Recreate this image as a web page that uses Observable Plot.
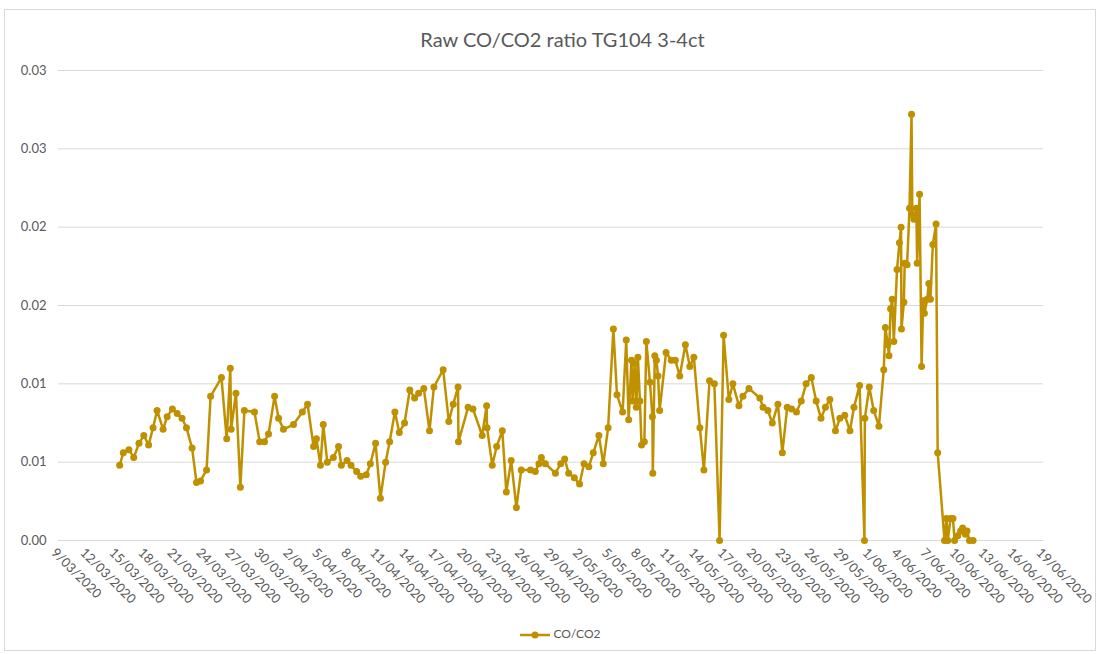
<!DOCTYPE html>
<html>
<head>
<meta charset="utf-8">
<script src="https://cdn.jsdelivr.net/npm/d3@7"></script>
<script src="https://cdn.jsdelivr.net/npm/@observablehq/plot@0.6"></script>
<style>
  html, body { margin: 0; padding: 0; background: #fff; }
  #wrap { position: relative; width: 1097px; height: 654px; overflow: hidden; font-family: Lato, "Open Sans", sans-serif; color: #595959; }
  #frame { position: absolute; left: 4px; top: 9px; width: 1092px; height: 642px; border: 1px solid #d9d9d9; box-sizing: border-box; }
  #title { position: absolute; left: 14px; width: 1097px; top: 27px; text-align: center; font-size: 20px; color: #595959; }
  #chart { position: absolute; left: 0; top: 0; }
  #legend { position: absolute; left: 12px; width: 1097px; top: 626px; text-align: center; font-size: 12px; color: #595959; }
  #legend svg { vertical-align: middle; margin-right: 3px; }
</style>
</head>
<body>
<div id="wrap">
  <div id="frame"></div>
  <div id="chart"></div>
  <div id="title">Raw CO/CO2 ratio TG104 3-4ct</div>
  <div id="legend"></div>
</div>
<script>
// ---- data ----
const seriesName = "CO/CO2";
const times = [
  "2020-03-15 08","2020-03-15 17","2020-03-16 07","2020-03-16 19","2020-03-17 08","2020-03-17 20",
  "2020-03-18 08","2020-03-18 19","2020-03-19 05","2020-03-19 20","2020-03-20 06","2020-03-20 19",
  "2020-03-21 07","2020-03-21 19","2020-03-22 06","2020-03-22 20","2020-03-23 07","2020-03-23 17",
  "2020-03-24 08","2020-03-24 18","2020-03-25 21","2020-03-26 10","2020-03-26 19","2020-03-26 21",
  "2020-03-27 09","2020-03-27 20","2020-03-28 06","2020-03-29 07","2020-03-29 20","2020-03-30 08",
  "2020-03-30 18","2020-03-31 09","2020-03-31 19","2020-04-01 07","2020-04-02 08","2020-04-03 06",
  "2020-04-03 19","2020-04-04 10","2020-04-04 17","2020-04-05 03","2020-04-05 10","2020-04-05 20",
  "2020-04-06 11","2020-04-07 00","2020-04-07 07","2020-04-07 21","2020-04-08 07","2020-04-08 21",
  "2020-04-09 07","2020-04-09 21","2020-04-10 07","2020-04-10 20","2020-04-11 08","2020-04-11 21",
  "2020-04-12 07","2020-04-12 20","2020-04-13 07","2020-04-13 20","2020-04-14 09","2020-04-14 21",
  "2020-04-15 07","2020-04-15 20","2020-04-16 10","2020-04-16 21","2020-04-17 20","2020-04-18 10",
  "2020-04-18 21","2020-04-19 09","2020-04-19 10","2020-04-20 10","2020-04-20 22","2020-04-21 21",
  "2020-04-22 08","2020-04-22 09","2020-04-22 22","2020-04-23 09","2020-04-23 23","2020-04-24 09",
  "2020-04-24 21","2020-04-25 10","2020-04-25 22","2020-04-26 21","2020-04-27 09","2020-04-27 18",
  "2020-04-28 00","2020-04-28 10","2020-04-29 11","2020-04-30 00","2020-04-30 10","2020-04-30 20",
  "2020-05-01 10","2020-05-01 23","2020-05-02 10","2020-05-02 22","2020-05-03 09","2020-05-03 23",
  "2020-05-04 10","2020-05-04 22","2020-05-05 11","2020-05-05 20","2020-05-06 10","2020-05-06 19",
  "2020-05-07 01","2020-05-07 08","2020-05-07 11","2020-05-07 16","2020-05-07 20","2020-05-08 00",
  "2020-05-08 05","2020-05-08 09","2020-05-08 16","2020-05-08 21","2020-05-09 06","2020-05-09 12",
  "2020-05-09 13","2020-05-09 18","2020-05-09 22","2020-05-10 02","2020-05-10 06","2020-05-10 22",
  "2020-05-11 11","2020-05-11 21","2020-05-12 08","2020-05-12 22","2020-05-13 09","2020-05-13 19",
  "2020-05-14 10","2020-05-14 20","2020-05-15 10","2020-05-15 22","2020-05-16 11","2020-05-16 21",
  "2020-05-17 10","2020-05-17 20","2020-05-18 11","2020-05-18 21","2020-05-19 12","2020-05-20 15",
  "2020-05-20 23","2020-05-21 11","2020-05-21 22","2020-05-22 12","2020-05-22 23","2020-05-23 11",
  "2020-05-23 22","2020-05-24 10","2020-05-24 22","2020-05-25 10","2020-05-25 23","2020-05-26 11",
  "2020-05-26 23","2020-05-27 10","2020-05-27 21","2020-05-28 11","2020-05-28 22","2020-05-29 10",
  "2020-05-29 23","2020-05-30 09","2020-05-30 23","2020-05-31 11","2020-05-31 12","2020-05-31 23",
  "2020-06-01 10","2020-06-01 23","2020-06-02 11","2020-06-02 15","2020-06-02 21","2020-06-03 00",
  "2020-06-03 04","2020-06-03 08","2020-06-03 12","2020-06-03 20","2020-06-04 02","2020-06-04 06",
  "2020-06-04 07","2020-06-04 13","2020-06-04 15","2020-06-04 21","2020-06-05 03","2020-06-05 08",
  "2020-06-05 10","2020-06-05 14","2020-06-05 20","2020-06-05 22","2020-06-06 04","2020-06-06 09",
  "2020-06-06 13","2020-06-06 16","2020-06-06 23","2020-06-07 03","2020-06-07 07","2020-06-07 13",
  "2020-06-07 21","2020-06-08 01","2020-06-08 18","2020-06-08 23","2020-06-09 02","2020-06-09 09",
  "2020-06-09 15","2020-06-09 19","2020-06-10 03","2020-06-10 10","2020-06-10 15","2020-06-10 22",
  "2020-06-11 02","2020-06-11 08","2020-06-11 17"
];
const ratios = [
  0.0048,0.0056,0.0058,0.0053,0.0062,0.0067,
  0.0061,0.0072,0.0083,0.0071,0.0079,0.0084,
  0.0081,0.0078,0.0072,0.0059,0.0037,0.0038,
  0.0045,0.0092,0.0104,0.0065,0.0110,0.0071,
  0.0094,0.0034,0.0083,0.0082,0.0063,0.0063,
  0.0068,0.0092,0.0078,0.0071,0.0074,0.0082,
  0.0087,0.0060,0.0065,0.0048,0.0074,0.0050,
  0.0053,0.0060,0.0048,0.0051,0.0048,0.0044,
  0.0041,0.0042,0.0049,0.0062,0.0027,0.0050,
  0.0063,0.0082,0.0069,0.0075,0.0096,0.0091,
  0.0094,0.0097,0.0070,0.0098,0.0109,0.0076,
  0.0087,0.0098,0.0063,0.0085,0.0084,0.0067,
  0.0086,0.0072,0.0048,0.0060,0.0070,0.0031,
  0.0051,0.0021,0.0045,0.0045,0.0044,0.0049,
  0.0053,0.0049,0.0043,0.0049,0.0052,0.0043,
  0.0040,0.0036,0.0049,0.0047,0.0056,0.0067,
  0.0049,0.0072,0.0135,0.0093,0.0082,0.0128,
  0.0077,0.0115,0.0089,0.0113,0.0085,0.0117,
  0.0089,0.0061,0.0063,0.0127,0.0101,0.0079,
  0.0043,0.0118,0.0115,0.0105,0.0083,0.0120,
  0.0115,0.0115,0.0105,0.0125,0.0111,0.0117,
  0.0072,0.0045,0.0102,0.0100,0.0000,0.0131,
  0.0090,0.0100,0.0086,0.0092,0.0097,0.0091,
  0.0085,0.0083,0.0075,0.0087,0.0056,0.0085,
  0.0084,0.0082,0.0089,0.0100,0.0104,0.0089,
  0.0078,0.0085,0.0090,0.0070,0.0078,0.0080,
  0.0070,0.0085,0.0099,0.0000,0.0078,0.0098,
  0.0083,0.0073,0.0109,0.0136,0.0125,0.0118,
  0.0148,0.0154,0.0127,0.0173,0.0190,0.0200,
  0.0135,0.0152,0.0177,0.0176,0.0212,0.0272,
  0.0208,0.0205,0.0212,0.0177,0.0221,0.0111,
  0.0153,0.0145,0.0154,0.0164,0.0154,0.0189,
  0.0202,0.0056,0.0000,0.0014,0.0000,0.0014,
  0.0014,0.0000,0.0003,0.0006,0.0008,0.0004,
  0.0006,0.0000,0.0000
];
const xTickLabels = [
  "9/03/2020","12/03/2020","15/03/2020","18/03/2020","21/03/2020","24/03/2020","27/03/2020",
  "30/03/2020","2/04/2020","5/04/2020","8/04/2020","11/04/2020","14/04/2020","17/04/2020",
  "20/04/2020","23/04/2020","26/04/2020","29/04/2020","2/05/2020","5/05/2020","8/05/2020",
  "11/05/2020","14/05/2020","17/05/2020","20/05/2020","23/05/2020","26/05/2020","29/05/2020",
  "1/06/2020","4/06/2020","7/06/2020","10/06/2020","13/06/2020","16/06/2020","19/06/2020"
];
const yTicks = [0, 0.005, 0.01, 0.015, 0.02, 0.025, 0.03];
const yTickLabels = ["0.00","0.01","0.01","0.02","0.02","0.03","0.03"];

// ---- build ----
const parseT = d3.utcParse("%Y-%m-%d %H");
const parseTick = d3.utcParse("%d/%m/%Y");
const data = times.map((t, i) => ({date: parseT(t), value: ratios[i]}));
const xTicks = xTickLabels.map(parseTick);
const color = "#BF9000";

const chart = Plot.plot({
  width: 1097,
  height: 612,
  marginLeft: 58,
  marginRight: 54,
  marginTop: 70,
  marginBottom: 72,
  style: {fontFamily: "Lato, 'Open Sans', sans-serif", fontSize: "13px", color: "#595959", background: "transparent"},
  x: {type: "utc", domain: [xTicks[0], xTicks[xTicks.length - 1]], axis: null},
  y: {domain: [0, 0.03], ticks: yTicks, tickSize: 0, tickPadding: 12,
      tickFormat: (d) => yTickLabels[yTicks.indexOf(d)], label: null},
  marks: [
    Plot.ruleY(yTicks, {stroke: "#d9d9d9", strokeWidth: 1}),
    Plot.text(xTicks, {x: (d) => d, frameAnchor: "bottom", dy: 10, dx: -5, rotate: 45,
      textAnchor: "start", lineAnchor: "middle", fill: "#595959", fontSize: 13,
      text: (d, i) => xTickLabels[i]}),
    Plot.line(data, {x: "date", y: "value", stroke: color, strokeWidth: 2.5, curve: "linear"}),
    Plot.dot(data, {x: "date", y: "value", fill: color, r: 3.5, stroke: "none"})
  ]
});
document.getElementById("chart").appendChild(chart);

// legend
const lg = document.getElementById("legend");
lg.innerHTML = `<svg width="30" height="10"><line x1="0" y1="5" x2="30" y2="5" stroke="${color}" stroke-width="2.5"/><circle cx="15" cy="5" r="3.5" fill="${color}"/></svg>${seriesName}`;
</script>
</body>
</html>
